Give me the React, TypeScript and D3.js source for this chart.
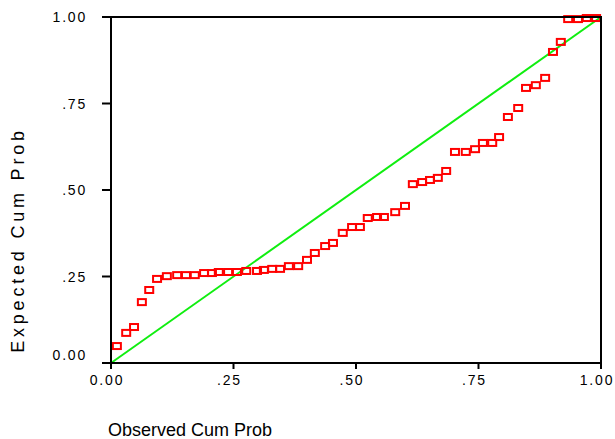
import React from "react";
import * as d3 from "d3";

const observed = [
  0.012, 0.031, 0.047, 0.063, 0.078, 0.094, 0.114, 0.135, 0.153, 0.171,
  0.19, 0.206, 0.22, 0.239, 0.257, 0.276, 0.298, 0.312, 0.329, 0.345,
  0.363, 0.382, 0.4, 0.416, 0.437, 0.453, 0.473, 0.492, 0.508, 0.524,
  0.543, 0.557, 0.58, 0.6, 0.616, 0.635, 0.651, 0.667, 0.684, 0.702,
  0.724, 0.743, 0.759, 0.778, 0.792, 0.81, 0.831, 0.847, 0.867, 0.886,
  0.902, 0.918, 0.933, 0.953, 0.971, 0.99,
];
const expected = [
  0.049, 0.087, 0.104, 0.176, 0.211, 0.243, 0.251, 0.254, 0.254, 0.254,
  0.26, 0.26, 0.263, 0.263, 0.263, 0.266, 0.266, 0.269, 0.272, 0.272,
  0.28, 0.28, 0.298, 0.318, 0.338, 0.347, 0.376, 0.393, 0.393, 0.419,
  0.422, 0.422, 0.436, 0.454, 0.517, 0.523, 0.529, 0.535, 0.555, 0.61,
  0.61, 0.618, 0.636, 0.636, 0.653, 0.711, 0.737, 0.795, 0.803, 0.824,
  0.899, 0.928, 0.994, 0.994, 0.997, 0.997,
];
const tickValues = [0, 0.25, 0.5, 0.75, 1];
const tickLabels = ["0.00", ".25", ".50", ".75", "1.00"];
const xTitle = "Observed Cum Prob";
const yTitle = "Expected Cum Prob";

const W = 615;
const H = 439;
const L = 111;
const R = 601;
const T = 17;
const B = 363;
const FONT = "'Liberation Sans', Arial, Helvetica, sans-serif";

export default function App() {
  const x = d3.scaleLinear().domain([0, 1]).range([L, R]);
  const y = d3.scaleLinear().domain([0, 1]).range([B, T]);
  const line = d3.line<number>()
    .x((d) => x(d))
    .y((d) => y(d));

  return (
    <svg
      width={W}
      height={H}
      style={{ position: "fixed", left: 0, top: 0, background: "#fff" }}
      fontFamily={FONT}
    >
      <rect x={0} y={0} width={W} height={H} fill="#fff" />
      <path d={line([0, 1]) || ""} stroke="#10ee10" strokeWidth={2} fill="none" />
      {observed.map((o, i) => (
        <rect
          key={i}
          x={x(o) - 4}
          y={y(expected[i]) - 3}
          width={8}
          height={6}
          fill="none"
          stroke="#ff0000"
          strokeWidth={2}
        />
      ))}
      <rect x={L} y={T} width={R - L} height={B - T} fill="none" stroke="#000" strokeWidth={2} />
      {tickValues.map((t, i) => (
        <g key={"y" + i}>
          <line x1={L - 9} x2={L} y1={y(t)} y2={y(t)} stroke="#000" strokeWidth={2} />
          <text
            x={87}
            y={y(t) + (t === 0 ? -3 : 5)}
            textAnchor="end"
            fontSize={14}
            letterSpacing={1.8}
            fill="#000"
          >
            {tickLabels[i]}
          </text>
        </g>
      ))}
      {tickValues.map((t, i) => (
        <g key={"x" + i}>
          <line x1={x(t)} x2={x(t)} y1={B} y2={B + 6} stroke="#000" strokeWidth={2} />
          <text
            x={x(t) - 4}
            y={385}
            textAnchor="middle"
            fontSize={14}
            letterSpacing={1.8}
            fill="#000"
          >
            {tickLabels[i]}
          </text>
        </g>
      ))}
      <text x={108} y={436} fontSize={18} fill="#000">
        {xTitle}
      </text>
      <text
        transform={`translate(24, ${240}) rotate(-90)`}
        textAnchor="middle"
        fontSize={18}
        letterSpacing={3.8}
        fill="#000"
      >
        {yTitle}
      </text>
    </svg>
  );
}
